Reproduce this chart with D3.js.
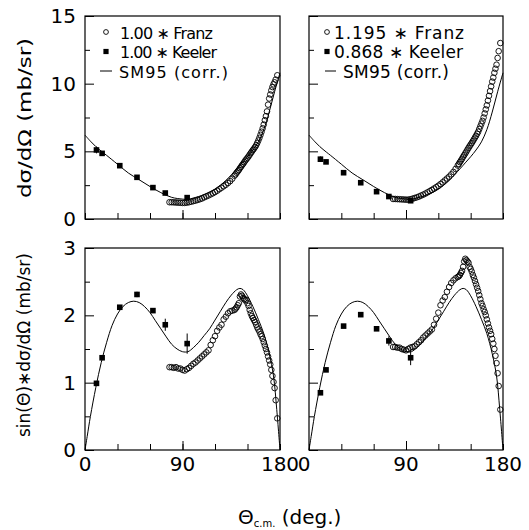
<!DOCTYPE html>
<html>
<head>
<meta charset="utf-8">
<script src="https://cdn.jsdelivr.net/npm/d3@7/dist/d3.min.js"></script>
<style>
  html, body { margin: 0; padding: 0; background: #fff; }
  svg { display: block; }
  text { font-family: "DejaVu Sans", "Liberation Sans", Arial, sans-serif; fill: #000; }
</style>
</head>
<body>
<div id="chart"></div>
<script>
// =========================
// DATA
// =========================
const THETA_FRANZ = [78, 80, 82, 84, 86, 88, 90, 92, 94, 96, 98, 100, 102, 104, 106, 108, 110, 112, 114, 116,
  118, 120, 122, 124, 126, 128, 130, 132, 134, 136, 138, 139, 140, 141, 142, 143, 144, 145, 146, 147,
  148, 149, 150, 151, 152, 153, 154, 155, 156, 157, 158, 159, 160, 161, 162, 163, 164, 165, 166, 167,
  168, 169, 170, 171, 172, 173, 174, 175, 176, 177.5];

// top-left: 1.00 * Franz, dsigma/dOmega
const FRANZ_TL = [1.24, 1.24, 1.23, 1.22, 1.21, 1.2, 1.19, 1.19, 1.21, 1.24, 1.28, 1.32, 1.36, 1.41, 1.46, 1.52, 1.6, 1.67, 1.74, 1.82,
  1.9, 1.99, 2.09, 2.2, 2.31, 2.42, 2.53, 2.66, 2.8, 2.98, 3.2, 3.3, 3.42, 3.52, 3.62, 3.75, 3.86, 3.98, 4.08, 4.2,
  4.32, 4.42, 4.52, 4.63, 4.75, 4.87, 4.98, 5.1, 5.2, 5.32, 5.45, 5.62, 5.8, 6.0, 6.22, 6.45, 6.7, 6.98, 7.3, 7.6,
  7.95, 8.45, 8.9, 9.2, 9.5, 9.75, 9.95, 10.1, 10.3, 10.62];

// top-right: 1.195 * Franz
const FRANZ_TR = [1.48, 1.48, 1.47, 1.46, 1.45, 1.44, 1.43, 1.43, 1.46, 1.5, 1.55, 1.6, 1.66, 1.73, 1.8, 1.88, 1.97, 2.06, 2.15, 2.25,
  2.35, 2.46, 2.58, 2.71, 2.85, 2.99, 3.13, 3.3, 3.48, 3.7, 3.95, 4.07, 4.2, 4.32, 4.45, 4.6, 4.72, 4.85, 4.98, 5.12,
  5.25, 5.38, 5.5, 5.62, 5.75, 5.88, 6.02, 6.15, 6.3, 6.45, 6.65, 6.85, 7.05, 7.25, 7.5, 7.8, 8.1, 8.4, 8.75, 9.1,
  9.45, 9.8, 10.15, 10.45, 10.8, 11.1, 11.4, 11.9, 12.4, 13.0];

// bottom-left: sin(theta) * 1.00 * Franz
const FRANZ_BL = [1.23, 1.23, 1.22, 1.23, 1.21, 1.21, 1.19, 1.18, 1.2, 1.22, 1.25, 1.28, 1.3, 1.33, 1.36, 1.39, 1.42, 1.45, 1.48, 1.56,
  1.63, 1.69, 1.77, 1.82, 1.86, 1.94, 1.98, 2.03, 2.06, 2.07, 2.08, 2.1, 2.12, 2.15, 2.18, 2.28, 2.31, 2.29, 2.26, 2.24,
  2.22, 2.23, 2.18, 2.14, 2.08, 2.03, 1.99, 1.96, 1.93, 1.9, 1.86, 1.82, 1.79, 1.76, 1.72, 1.69, 1.65, 1.6, 1.55, 1.5,
  1.45, 1.39, 1.33, 1.27, 1.19, 1.1, 1.01, 0.92, 0.74, 0.47];

// bottom-right: sin(theta) * 1.195 * Franz
const FRANZ_BR = [1.53, 1.53, 1.52, 1.52, 1.5, 1.49, 1.48, 1.5, 1.52, 1.53, 1.54, 1.57, 1.6, 1.63, 1.67, 1.7, 1.73, 1.76, 1.79, 1.86,
  1.95, 2.04, 2.15, 2.22, 2.27, 2.35, 2.42, 2.48, 2.52, 2.55, 2.57, 2.58, 2.6, 2.63, 2.66, 2.72, 2.8, 2.84, 2.82, 2.8,
  2.78, 2.72, 2.69, 2.65, 2.6, 2.56, 2.51, 2.46, 2.41, 2.36, 2.3, 2.24, 2.18, 2.14, 2.09, 2.05, 2.0, 1.94, 1.88, 1.82,
  1.77, 1.72, 1.65, 1.58, 1.5, 1.4, 1.29, 1.14, 0.95, 0.6];

const THETA_KEELER = [10.6, 15.8, 32.1, 48, 62.7, 74.1, 94.3];
const KEELER_TL = [5.1, 4.85, 3.94, 3.08, 2.32, 1.92, 1.58];
const KEELER_TL_ERR = [0.25, 0.05, 0.05, 0.05, 0.05, 0.06, 0.08];
const KEELER_TR = [4.42, 4.22, 3.42, 2.68, 2.02, 1.66, 1.35];
const KEELER_TR_ERR = [0.2, 0.05, 0.05, 0.05, 0.05, 0.06, 0.08];
const KEELER_BL = [0.99, 1.37, 2.12, 2.31, 2.07, 1.86, 1.58];
const KEELER_BL_ERR = [0.03, 0.03, 0.03, 0.04, 0.03, 0.09, 0.15];
const KEELER_BR = [0.85, 1.19, 1.84, 2.01, 1.80, 1.62, 1.37];
const KEELER_BR_ERR = [0.03, 0.03, 0.03, 0.03, 0.03, 0.07, 0.11];

// SM95 (corr.) curve
const THETA_SM95_TOP = [0, 5, 10, 16, 20, 30, 40, 50, 60, 70, 80, 90, 95, 100, 110, 120, 130, 140, 145, 150,
  155, 160, 165, 170, 175, 180];
const SM95_TOP = [6.2, 5.75, 5.35, 4.95, 4.7, 4.05, 3.4, 2.9, 2.4, 1.95, 1.6, 1.47, 1.45, 1.55, 1.8, 2.2, 2.85, 3.7, 4.15, 4.6,
  5.1, 5.7, 6.6, 7.9, 9.4, 10.8];
const THETA_SM95_BOT = [0, 2, 5, 10, 15, 20, 25, 30, 35, 40, 45, 50, 55, 60, 65, 70, 75, 80, 85, 90,
  95, 100, 105, 110, 115, 120, 125, 130, 135, 140, 143, 146, 150, 155, 160, 165, 170, 174, 177, 180];
const SM95_BOT = [0, 0.2, 0.5, 0.93, 1.3, 1.6, 1.85, 2.02, 2.13, 2.19, 2.21, 2.19, 2.13, 2.04, 1.92, 1.8, 1.68, 1.57, 1.5, 1.46,
  1.46, 1.52, 1.6, 1.7, 1.8, 1.93, 2.06, 2.19, 2.3, 2.38, 2.40, 2.38, 2.29, 2.13, 1.94, 1.73, 1.43, 1.1, 0.6, 0];

const X_TICKS = [0, 30, 60, 90, 120, 150, 180];
const X_LABELS = [0, 90, 180];
const TOP_Y_MAJOR = [0, 5, 10, 15];
const TOP_Y_MINOR = [2.5, 7.5, 12.5];
const BOT_Y_MAJOR = [0, 1, 2, 3];
const BOT_Y_MINOR = [0.5, 1.5, 2.5];

const LEGEND_LEFT = ["1.00 \u2217 Franz", "1.00 \u2217 Keeler", "SM95 (corr.)"];
const LEGEND_RIGHT = ["1.195 \u2217 Franz", "0.868 \u2217 Keeler", "SM95 (corr.)"];

const zip = (xs, ys, es) => xs.map((x, i) => ({ x, y: ys[i], e: es ? es[i] : 0 }));

// =========================
// SVG
// =========================
const svg = d3.select("#chart")
  .append("svg")
  .attr("width", 529)
  .attr("height", 530);

svg.append("rect").attr("width", 529).attr("height", 530).attr("fill", "#fff");

function drawPanel(p) {
  const x = d3.scaleLinear().domain([0, 180]).range([p.left, p.right]);
  const y = d3.scaleLinear().domain(p.yDomain).range([p.bottom, p.top]);
  const g = svg.append("g");

  // ticks (pointing inwards)
  const yMajor = d3.axisLeft(y).tickValues(p.yMajor).tickSize(-9).tickPadding(9)
    .tickFormat(d => p.yLabels ? String(d) : "");
  const yMinor = d3.axisLeft(y).tickValues(p.yMinor).tickSize(-5).tickFormat(() => "");
  const xMajor = d3.axisBottom(x).tickValues(X_TICKS).tickSize(-6).tickFormat(() => "");
  const xMid = d3.axisBottom(x).tickValues([90]).tickSize(-9).tickFormat(() => "");

  [[yMajor, `translate(${p.left},0)`], [yMinor, `translate(${p.left},0)`],
   [xMajor, `translate(0,${p.bottom})`], [xMid, `translate(0,${p.bottom})`]].forEach(([ax, tr]) => {
    const a = g.append("g").attr("transform", tr).call(ax);
    a.select(".domain").remove();
    a.selectAll("line").attr("stroke", "#000").attr("stroke-width", 1);
    a.selectAll("text").style("font-size", "20px").style("font-family", "DejaVu Sans").attr("fill", "#000");
  });

  // x tick labels
  if (p.xLabels) {
    g.selectAll(".xl").data(X_LABELS).enter().append("text")
      .attr("x", d => x(d) + (d === 0 ? p.zeroShift : 0))
      .attr("y", p.bottom + 21)
      .attr("text-anchor", "middle")
      .style("font-size", "20px")
      .text(d => String(d));
  }

  // frame
  g.append("rect")
    .attr("x", p.left).attr("y", p.top)
    .attr("width", p.right - p.left).attr("height", p.bottom - p.top)
    .attr("fill", "none").attr("stroke", "#000").attr("stroke-width", 1.2);

  // SM95 curve
  const line = d3.line().x(d => x(d.x)).y(d => y(d.y)).curve(d3.curveCatmullRom);
  g.append("path")
    .datum(zip(p.curveX, p.curveY))
    .attr("d", line)
    .attr("fill", "none").attr("stroke", "#000").attr("stroke-width", 1);

  // Keeler: error bars + filled squares
  const keeler = zip(THETA_KEELER, p.keeler, p.keelerErr);
  g.selectAll(".err").data(keeler).enter().append("line")
    .attr("x1", d => x(d.x)).attr("x2", d => x(d.x))
    .attr("y1", d => y(d.y - d.e)).attr("y2", d => y(d.y + d.e))
    .attr("stroke", "#000").attr("stroke-width", 1);
  g.selectAll(".kee").data(keeler).enter().append("rect")
    .attr("x", d => x(d.x) - 2.8).attr("y", d => y(d.y) - 2.8)
    .attr("width", 5.6).attr("height", 5.6).attr("fill", "#000");

  // Franz: open circles
  g.selectAll(".fr").data(zip(THETA_FRANZ, p.franz)).enter().append("circle")
    .attr("cx", d => x(d.x)).attr("cy", d => y(d.y)).attr("r", 2.8)
    .attr("fill", "none").attr("stroke", "#000").attr("stroke-width", 0.9);

  // legend
  if (p.legend) {
    const lg = p.legend;
    const rows = [lg.top, lg.top + 19.5, lg.top + 39];
    g.append("circle").attr("cx", lg.sx).attr("cy", rows[0]).attr("r", 2.4)
      .attr("fill", "none").attr("stroke", "#000").attr("stroke-width", 0.9);
    g.append("rect").attr("x", lg.sx - 2.6).attr("y", rows[1] - 2.6).attr("width", 5.2).attr("height", 5.2);
    g.append("line").attr("x1", lg.lx1).attr("x2", lg.lx2).attr("y1", rows[2]).attr("y2", rows[2])
      .attr("stroke", "#000").attr("stroke-width", 1);
    lg.labels.forEach((t, i) => {
      g.append("text")
        .attr("x", lg.tx[i]).attr("y", rows[i] + 6.5)
        .attr("textLength", lg.widths[i]).attr("lengthAdjust", "spacing")
        .style("font-size", lg.size + "px")
        .text(t);
    });
  }
}

// =========================
// PANELS
// =========================
drawPanel({
  left: 85, right: 280, top: 16, bottom: 219, yDomain: [0, 15],
  yMajor: TOP_Y_MAJOR, yMinor: TOP_Y_MINOR, yLabels: true, xLabels: false,
  franz: FRANZ_TL, keeler: KEELER_TL, keelerErr: KEELER_TL_ERR,
  curveX: THETA_SM95_TOP, curveY: SM95_TOP,
  legend: { top: 32, sx: 106, lx1: 100, lx2: 112, tx: [120, 120, 119], size: 16,
            labels: LEGEND_LEFT, widths: [93, 97, 109] }
});
drawPanel({
  left: 309, right: 503, top: 16, bottom: 219, yDomain: [0, 15],
  yMajor: TOP_Y_MAJOR, yMinor: TOP_Y_MINOR, yLabels: false, xLabels: false,
  franz: FRANZ_TR, keeler: KEELER_TR, keelerErr: KEELER_TR_ERR,
  curveX: THETA_SM95_TOP, curveY: SM95_TOP,
  legend: { top: 32, sx: 327, lx1: 325, lx2: 336, tx: [334, 334, 343], size: 17,
            labels: LEGEND_RIGHT, widths: [130, 129, 106] }
});
drawPanel({
  left: 85, right: 280, top: 248, bottom: 450, yDomain: [0, 3],
  yMajor: BOT_Y_MAJOR, yMinor: BOT_Y_MINOR, yLabels: true, xLabels: true, zeroShift: 0,
  franz: FRANZ_BL, keeler: KEELER_BL, keelerErr: KEELER_BL_ERR,
  curveX: THETA_SM95_BOT, curveY: SM95_BOT
});
drawPanel({
  left: 309, right: 503, top: 248, bottom: 450, yDomain: [0, 3],
  yMajor: BOT_Y_MAJOR, yMinor: BOT_Y_MINOR, yLabels: false, xLabels: true, zeroShift: -5,
  franz: FRANZ_BR, keeler: KEELER_BR, keelerErr: KEELER_BR_ERR,
  curveX: THETA_SM95_BOT, curveY: SM95_BOT
});

// =========================
// AXIS TITLES
// =========================
svg.append("text")
  .attr("transform", "translate(31,118) rotate(-90)")
  .attr("text-anchor", "middle")
  .attr("textLength", 160).attr("lengthAdjust", "spacingAndGlyphs")
  .style("font-size", "17px")
  .text("d\u03c3/d\u03a9 (mb/sr)");

svg.append("text")
  .attr("transform", "translate(30,345) rotate(-90)")
  .attr("text-anchor", "middle")
  .attr("textLength", 184).attr("lengthAdjust", "spacingAndGlyphs")
  .style("font-size", "17px")
  .text("sin(\u0398)\u2217d\u03c3/d\u03a9 (mb/sr)");

const xt = svg.append("text")
  .attr("x", 238).attr("y", 524)
  .style("font-size", "20px");
xt.append("tspan").text("\u0398");
xt.append("tspan").attr("dy", 3).style("font-size", "10px").text("c.m.");
xt.append("tspan").attr("dy", -3).text(" (deg.)");
</script>
</body>
</html>
